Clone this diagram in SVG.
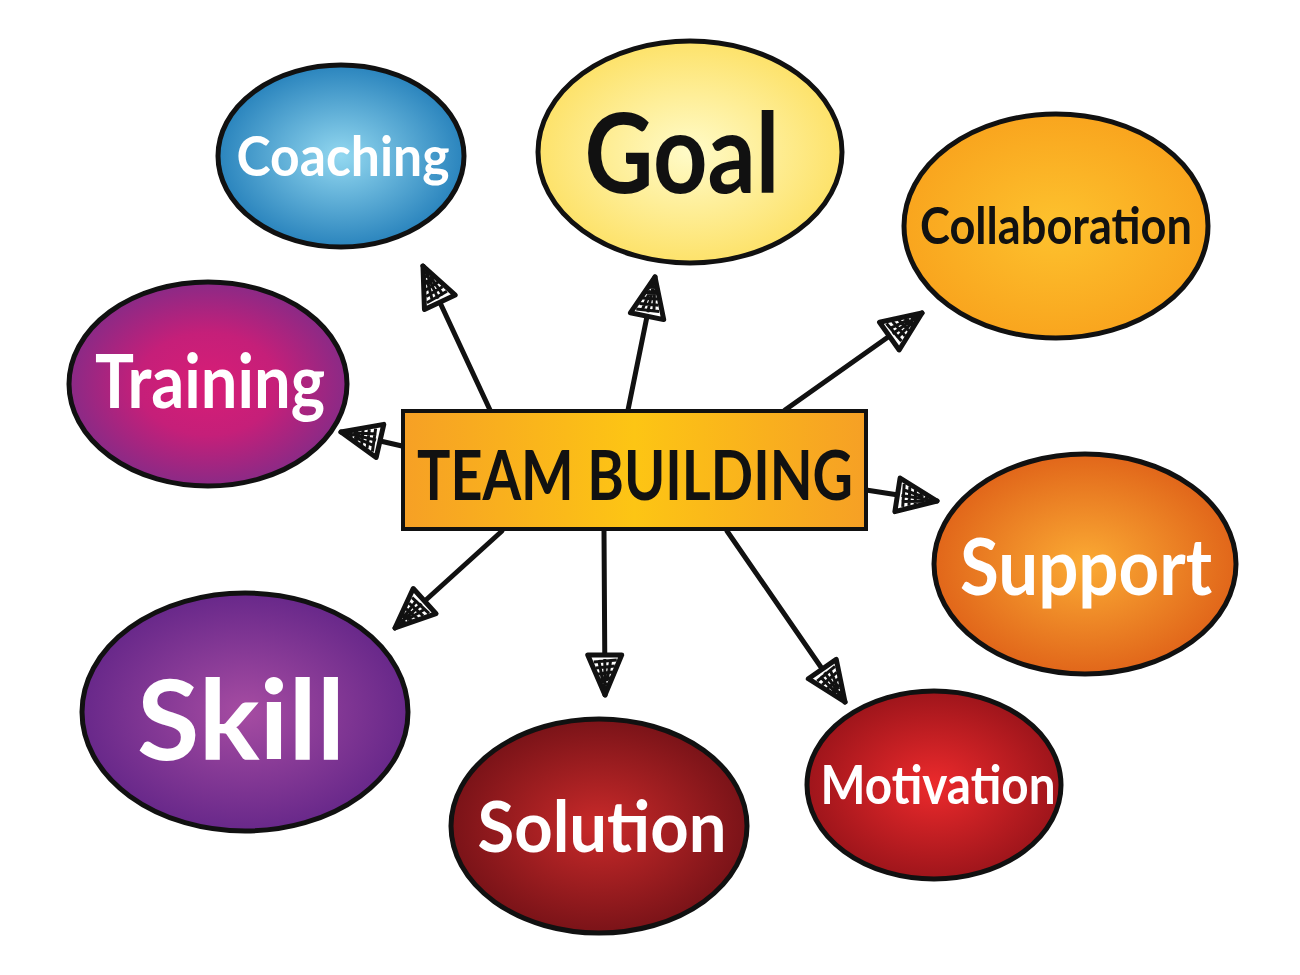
<svg xmlns="http://www.w3.org/2000/svg" width="1300" height="975" viewBox="0 0 1300 975">
<style>
.node{stroke:#111;stroke-width:5}
.lbl{font-family:Lato,"Open Sans","Liberation Sans",sans-serif;font-weight:700;text-anchor:middle}
.w{fill:#fff}
.b{fill:#111}
.conn line{stroke:#111;stroke-width:5;stroke-linecap:round;marker-end:url(#ah)}
</style>
<defs>
<marker id="ah" markerUnits="userSpaceOnUse" markerWidth="48" markerHeight="44" viewBox="-3 -3 48 44" refX="42" refY="19" orient="auto">
<path d="M2,2 L42,19 L2,36 Z" fill="#fff" stroke="#111" stroke-width="5" stroke-linejoin="round"/>
<path d="M7,7 L9,30 M13,9 L15,28 M19,11 L21,26 M25,13 L27,24 M31,16 L32,22 M7,13 L28,17 M7,25 L30,21 M6,19 L36,19" stroke="#111" stroke-width="3" fill="none"/>
</marker>
<radialGradient id="gCoach"><stop offset="0" stop-color="#93d8f0"/><stop offset="1" stop-color="#2a84bd"/></radialGradient>
<radialGradient id="gGoal"><stop offset="0" stop-color="#fffbc8"/><stop offset="1" stop-color="#fde26a"/></radialGradient>
<radialGradient id="gColl"><stop offset="0" stop-color="#fdc22e"/><stop offset="1" stop-color="#f9a51e"/></radialGradient>
<radialGradient id="gTrain"><stop offset="0" stop-color="#d81d76"/><stop offset="0.5" stop-color="#c51f79"/><stop offset="1" stop-color="#8a2a86"/></radialGradient>
<radialGradient id="gSupp"><stop offset="0" stop-color="#fbab34"/><stop offset="1" stop-color="#e1661a"/></radialGradient>
<radialGradient id="gSkill"><stop offset="0" stop-color="#a64ca2"/><stop offset="1" stop-color="#68288a"/></radialGradient>
<radialGradient id="gSol"><stop offset="0" stop-color="#c92a2a"/><stop offset="1" stop-color="#7a1318"/></radialGradient>
<radialGradient id="gMot"><stop offset="0" stop-color="#ec2a2c"/><stop offset="1" stop-color="#9e151b"/></radialGradient>
<linearGradient id="gCenter" x1="0" x2="1" y1="0" y2="0"><stop offset="0" stop-color="#f6a025"/><stop offset="0.5" stop-color="#fdc514"/><stop offset="1" stop-color="#f6a025"/></linearGradient>
</defs>
<rect width="1300" height="975" fill="#fff"/>
<g id="connectors" class="conn">
<line x1="490" y1="410" x2="423" y2="266"/>
<line x1="628" y1="410" x2="655" y2="277"/>
<line x1="785" y1="410" x2="922" y2="313"/>
<line x1="402" y1="446" x2="341" y2="432"/>
<line x1="866" y1="490" x2="937" y2="501"/>
<line x1="502" y1="531" x2="395" y2="628"/>
<line x1="604" y1="531" x2="605" y2="695"/>
<line x1="727" y1="531" x2="845" y2="702"/>
</g>
<g id="center">
<rect x="403" y="411" width="463" height="118" fill="url(#gCenter)" stroke="#111" stroke-width="4"/>
<text class="lbl b" x="635" y="500" font-size="68" textLength="436" lengthAdjust="spacingAndGlyphs">TEAM BUILDING</text>
</g>
<g id="coaching">
<ellipse class="node" cx="341" cy="156" rx="123" ry="91" fill="url(#gCoach)"/>
<text class="lbl w" x="343" y="176" font-size="56" textLength="213" lengthAdjust="spacingAndGlyphs">Coaching</text>
</g>
<g id="goal">
<ellipse class="node" cx="690" cy="152" rx="152" ry="111" fill="url(#gGoal)"/>
<text class="lbl b" x="682" y="193" font-size="112" textLength="195" lengthAdjust="spacingAndGlyphs">Goal</text>
</g>
<g id="collaboration">
<ellipse class="node" cx="1056" cy="226" rx="152" ry="112" fill="url(#gColl)"/>
<text class="lbl b" x="1056" y="244" font-size="52" textLength="272" lengthAdjust="spacingAndGlyphs">Collaboration</text>
</g>
<g id="training">
<ellipse class="node" cx="208" cy="384" rx="139" ry="102" fill="url(#gTrain)"/>
<text class="lbl w" x="210" y="408" font-size="74" textLength="230" lengthAdjust="spacingAndGlyphs">Training</text>
</g>
<g id="support">
<ellipse class="node" cx="1085" cy="564" rx="151" ry="110" fill="url(#gSupp)"/>
<text class="lbl w" x="1086" y="595" font-size="78" textLength="252" lengthAdjust="spacingAndGlyphs">Support</text>
</g>
<g id="skill">
<ellipse class="node" cx="245" cy="712" rx="163" ry="119" fill="url(#gSkill)"/>
<text class="lbl w" x="241" y="760" font-size="112" textLength="208" lengthAdjust="spacingAndGlyphs">Skill</text>
</g>
<g id="solution">
<ellipse class="node" cx="599" cy="826" rx="148" ry="107" fill="url(#gSol)"/>
<text class="lbl w" x="602" y="852" font-size="70" textLength="249" lengthAdjust="spacingAndGlyphs">Solution</text>
</g>
<g id="motivation">
<ellipse class="node" cx="934" cy="785" rx="127" ry="94" fill="url(#gMot)"/>
<text class="lbl w" x="938" y="804" font-size="54" textLength="235" lengthAdjust="spacingAndGlyphs">Motivation</text>
</g>
</svg>
